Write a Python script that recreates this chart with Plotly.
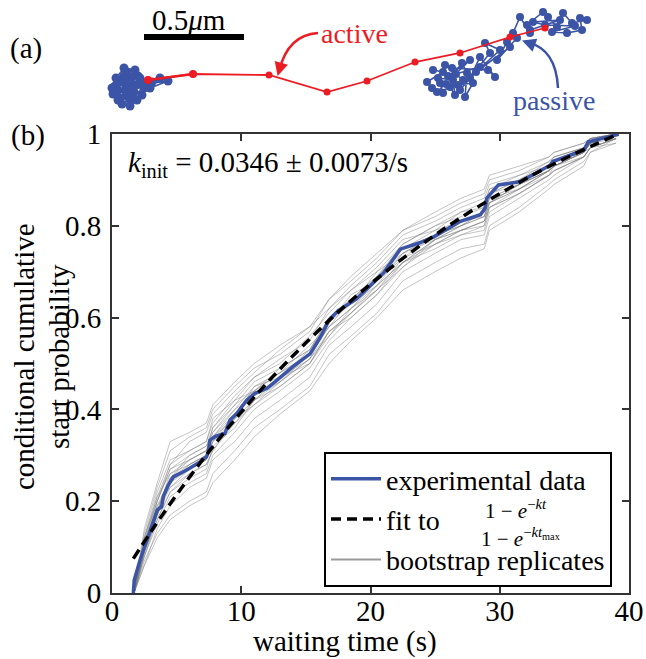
import plotly.graph_objects as go

W, H = 646, 659
FONT = "Liberation Serif"
BLUE = "#3b54a6"
RED = "#ec1c24"

# ---------------- panel (b) data ----------------
exp_t = [1.65, 1.72, 2.17, 2.81, 3.2, 3.51, 3.84, 3.97, 4.36, 4.75, 5.78, 6.68, 7.32, 7.45, 7.58,
         7.97, 8.74, 9.13, 9.65, 10.42, 11.06, 12.0, 12.7, 14.0, 15.32, 16.1, 16.8, 17.5, 18.9,
         21.0, 22.3, 23.8, 24.9, 25.4, 26.9, 28.5, 28.86, 28.99, 29.9, 31.57, 33.9, 34.1, 35.95,
         36.5, 36.85, 37.5, 39.04, 39.2]
exp_p = [0.0, 0.028, 0.072, 0.123, 0.152, 0.181, 0.188, 0.21, 0.235, 0.253, 0.268, 0.283, 0.297, 0.308, 0.333,
         0.341, 0.348, 0.377, 0.391, 0.42, 0.435, 0.446, 0.462, 0.493, 0.521, 0.556, 0.595, 0.615, 0.64,
         0.697, 0.749, 0.763, 0.776, 0.784, 0.809, 0.824, 0.838, 0.86, 0.889, 0.896, 0.932, 0.94, 0.958,
         0.965, 0.983, 0.987, 0.998, 1.0]

fit_t = [1.65, 3, 5, 7.5, 10, 12.5, 15, 17.5, 20, 22.5, 25, 27.5, 30, 32.5, 35, 37.5, 39.2]
fit_p = [0.075, 0.133, 0.214, 0.308, 0.394, 0.473, 0.545, 0.612, 0.673, 0.729, 0.780, 0.827, 0.870,
         0.910, 0.946, 0.979, 1.0]

boot_t = [1.7, 2.5, 3.5, 4.5, 6, 7.3, 7.8, 9.5, 11, 13, 15.3, 16.8, 18.5, 20.5, 22.5, 25, 27, 28.8,
          29.2, 31.5, 33.8, 34.2, 36.5, 37, 39]
boot_1 = [0, 0.13, 0.23, 0.31, 0.34, 0.36, 0.40, 0.45, 0.49, 0.52, 0.57, 0.64, 0.68, 0.73, 0.79, 0.82, 0.85, 0.87, 0.90, 0.92, 0.95, 0.96, 0.98, 0.99, 1.0]
boot_2 = [0, 0.07, 0.13, 0.17, 0.20, 0.22, 0.26, 0.31, 0.36, 0.40, 0.45, 0.52, 0.56, 0.61, 0.68, 0.72, 0.75, 0.76, 0.80, 0.84, 0.89, 0.90, 0.94, 0.96, 0.99]
boot_3 = [0, 0.11, 0.20, 0.27, 0.30, 0.32, 0.36, 0.41, 0.44, 0.49, 0.53, 0.60, 0.63, 0.70, 0.74, 0.78, 0.80, 0.82, 0.86, 0.89, 0.92, 0.93, 0.96, 0.98, 1.0]
boot_4 = [0, 0.08, 0.16, 0.22, 0.25, 0.27, 0.32, 0.36, 0.42, 0.45, 0.50, 0.57, 0.61, 0.66, 0.72, 0.77, 0.79, 0.81, 0.85, 0.88, 0.92, 0.93, 0.95, 0.97, 0.99]
boot_5 = [0, 0.12, 0.22, 0.29, 0.31, 0.33, 0.37, 0.43, 0.47, 0.50, 0.56, 0.61, 0.66, 0.71, 0.77, 0.79, 0.83, 0.84, 0.88, 0.91, 0.93, 0.95, 0.97, 0.98, 1.0]
boot_6 = [0, 0.09, 0.17, 0.24, 0.27, 0.29, 0.33, 0.39, 0.43, 0.47, 0.51, 0.59, 0.63, 0.67, 0.74, 0.77, 0.80, 0.83, 0.86, 0.89, 0.93, 0.94, 0.96, 0.98, 0.99]
boot_7 = [0, 0.06, 0.14, 0.19, 0.23, 0.25, 0.29, 0.33, 0.38, 0.42, 0.47, 0.54, 0.58, 0.63, 0.70, 0.74, 0.77, 0.78, 0.82, 0.86, 0.90, 0.91, 0.95, 0.97, 0.98]
boot_8 = [0, 0.10, 0.19, 0.25, 0.29, 0.31, 0.34, 0.38, 0.45, 0.48, 0.54, 0.58, 0.64, 0.69, 0.76, 0.80, 0.82, 0.84, 0.87, 0.90, 0.93, 0.94, 0.97, 0.99, 1.0]
boot_9 = [0, 0.12, 0.21, 0.28, 0.33, 0.35, 0.39, 0.44, 0.48, 0.53, 0.58, 0.62, 0.67, 0.72, 0.78, 0.81, 0.84, 0.86, 0.89, 0.91, 0.94, 0.95, 0.97, 0.98, 1.0]
boot_10 = [0, 0.08, 0.15, 0.21, 0.24, 0.26, 0.30, 0.35, 0.40, 0.44, 0.49, 0.55, 0.60, 0.65, 0.71, 0.76, 0.78, 0.79, 0.83, 0.87, 0.91, 0.92, 0.95, 0.97, 0.99]
boot_11 = [0, 0.10, 0.18, 0.26, 0.28, 0.30, 0.35, 0.40, 0.43, 0.46, 0.52, 0.58, 0.62, 0.68, 0.73, 0.78, 0.81, 0.82, 0.86, 0.88, 0.92, 0.93, 0.96, 0.98, 1.0]
boot_12 = [0, 0.09, 0.19, 0.23, 0.26, 0.28, 0.31, 0.37, 0.41, 0.45, 0.50, 0.56, 0.62, 0.66, 0.73, 0.76, 0.79, 0.80, 0.84, 0.87, 0.91, 0.92, 0.95, 0.97, 0.99]
boot_13 = [0, 0.14, 0.24, 0.33, 0.35, 0.37, 0.41, 0.46, 0.50, 0.54, 0.58, 0.64, 0.69, 0.74, 0.79, 0.83, 0.86, 0.88, 0.91, 0.93, 0.95, 0.96, 0.98, 0.99, 1.0]
boot_14 = [0, 0.06, 0.12, 0.16, 0.19, 0.21, 0.24, 0.29, 0.34, 0.39, 0.44, 0.50, 0.55, 0.60, 0.66, 0.70, 0.73, 0.75, 0.79, 0.83, 0.88, 0.89, 0.93, 0.96, 0.98]
boot_15 = [0, 0.11, 0.18, 0.25, 0.30, 0.32, 0.35, 0.41, 0.46, 0.49, 0.53, 0.59, 0.65, 0.68, 0.75, 0.78, 0.80, 0.83, 0.85, 0.89, 0.92, 0.93, 0.96, 0.99, 1.0]
boot_16 = [0, 0.09, 0.16, 0.22, 0.26, 0.28, 0.31, 0.38, 0.41, 0.46, 0.51, 0.57, 0.61, 0.66, 0.71, 0.77, 0.79, 0.81, 0.84, 0.88, 0.91, 0.93, 0.96, 0.98, 1.0]
boot_17 = [0, 0.10, 0.20, 0.27, 0.29, 0.31, 0.34, 0.40, 0.45, 0.47, 0.53, 0.60, 0.64, 0.69, 0.75, 0.79, 0.81, 0.83, 0.87, 0.90, 0.93, 0.94, 0.97, 0.98, 1.0]
boot_18 = [0, 0.08, 0.17, 0.23, 0.27, 0.29, 0.33, 0.37, 0.42, 0.46, 0.51, 0.56, 0.61, 0.67, 0.72, 0.76, 0.79, 0.81, 0.85, 0.88, 0.92, 0.93, 0.96, 0.97, 0.99]
boot_19 = [0, 0.11, 0.21, 0.26, 0.29, 0.31, 0.36, 0.42, 0.44, 0.48, 0.52, 0.60, 0.64, 0.68, 0.74, 0.78, 0.81, 0.83, 0.87, 0.89, 0.92, 0.93, 0.96, 0.98, 1.0]
boot_20 = [0, 0.09, 0.17, 0.25, 0.28, 0.30, 0.34, 0.39, 0.44, 0.48, 0.52, 0.58, 0.62, 0.67, 0.72, 0.77, 0.80, 0.82, 0.85, 0.89, 0.92, 0.94, 0.96, 0.98, 1.0]
boot_21 = [0, 0.10, 0.18, 0.24, 0.28, 0.30, 0.33, 0.38, 0.42, 0.47, 0.50, 0.57, 0.60, 0.65, 0.72, 0.75, 0.78, 0.80, 0.84, 0.87, 0.91, 0.92, 0.95, 0.97, 0.99]
boot_22 = [0, 0.12, 0.20, 0.28, 0.31, 0.33, 0.38, 0.42, 0.47, 0.51, 0.55, 0.62, 0.66, 0.70, 0.76, 0.80, 0.83, 0.85, 0.88, 0.90, 0.94, 0.95, 0.97, 0.99, 1.0]
boot_reps = [boot_1, boot_2, boot_3, boot_4, boot_5, boot_6, boot_7, boot_8, boot_9, boot_10, boot_11,
             boot_12, boot_13, boot_14, boot_15, boot_16, boot_17, boot_18, boot_19, boot_20, boot_21,
             boot_22]

x_ticks = [0, 10, 20, 30, 40]
y_ticks = [0, 0.2, 0.4, 0.6, 0.8, 1.0]
y_tick_labels = ["0", "0.2", "0.4", "0.6", "0.8", "1"]

# ---------------- panel (a) data (positions in nm) ----------------
left_x = [640, 610, 655, 680, 630, 590, 620, 670, 700, 650, 600, 575, 635, 690, 720, 665, 610, 565, 595,
          660, 640, 685, 630, 580, 620, 675, 710, 650, 590, 560, 625, 700, 760, 800, 750, 840, 730, 650]
left_y = [135, 165, 185, 150, 100, 125, 195, 115, 165, 75, 85, 145, 215, 195, 135, 95, 55, 105, 175,
          155, 110, 75, 150, 185, 235, 225, 100, 45, 75, 135, 125, 185, 165, 185, 135, 170, 155, 135]
right_x = [2165, 2215, 2135, 2160, 2215, 2200, 2250, 2275, 2265, 2190, 2230, 2310, 2335, 2325, 2365,
           2290, 2185, 2350, 2240, 2280, 2400, 2300, 2315, 2225, 2260, 2440, 2475, 2400, 2350, 2450,
           2425, 2500, 2380, 2550, 2535, 2485, 2585, 2565, 2600, 2650, 2635, 2715, 2740, 2785, 2815,
           2860, 2935, 2900, 2910, 2835, 2760, 2875, 2725, 2665, 2800, 2650]
right_y = [225, 215, 165, 135, 110, 160, 140, 100, 175, 185, 155, 260, 210, 90, 160,
           150, 115, 275, 195, 205, 240, 125, 175, 250, 235, 225, 190, 290, 185, 310,
           360, 325, 215, 340, 365, 275, 385, 410, 490, 410, 450, 515, 490, 440, 510,
           460, 475, 485, 425, 410, 415, 445, 450, 465, 475, 425]
active_x = [740, 965, 1345, 1635, 1835, 2075, 2300, 2550, 2725]
active_y = [175, 205, 200, 115, 170, 265, 310, 390, 435]
SCALE_BAR_NM = 500
SCALE_BAR_X0 = 720
SCALE_BAR_Y = 390


def px(x):
    """page pixel x -> paper fraction"""
    return x / W


def py(y):
    """page pixel y -> paper fraction"""
    return 1 - y / H


fig = go.Figure()

# bootstrap replicates
for i, rep in enumerate(boot_reps):
    fig.add_trace(go.Scatter(x=boot_t, y=rep, mode="lines",
                             line=dict(color="rgba(125,125,125,0.45)", width=1),
                             legendgroup="boot", showlegend=False, hoverinfo="skip"))
fig.add_trace(go.Scatter(x=[None], y=[None], mode="lines", name="bootstrap replicates",
                         line=dict(color="#999999", width=2.2), legendgroup="boot", legendrank=3))
fig.add_trace(go.Scatter(x=exp_t, y=exp_p, mode="lines", name="experimental data",
                         line=dict(color=BLUE, width=3.5), legendgroup="exp", legendrank=1))
fig.add_trace(go.Scatter(x=fit_t, y=fit_p, mode="lines", name="fit to",
                         line=dict(color="black", width=3.5, dash="10px,6px", shape="spline"),
                         legendgroup="fit", legendrank=2))

# panel (a) traces
fig.add_trace(go.Scatter(x=right_x, y=right_y, xaxis="x2", yaxis="y2", mode="lines+markers",
                         line=dict(color=BLUE, width=1.6), marker=dict(color=BLUE, size=8),
                         showlegend=False))
fig.add_trace(go.Scatter(x=active_x, y=active_y, xaxis="x2", yaxis="y2", mode="lines+markers",
                         line=dict(color=RED, width=1.8), marker=dict(color=RED, size=7),
                         showlegend=False))
fig.add_trace(go.Scatter(x=left_x, y=left_y, xaxis="x2", yaxis="y2", mode="lines+markers",
                         line=dict(color=BLUE, width=1.6), marker=dict(color=BLUE, size=9),
                         showlegend=False))
fig.add_trace(go.Scatter(x=active_x[:2], y=active_y[:2], xaxis="x2", yaxis="y2", mode="lines+markers",
                         line=dict(color=RED, width=2.5), marker=dict(color=RED, size=8),
                         showlegend=False))

axis_common = dict(showgrid=False, zeroline=False, ticks="inside", ticklen=7, tickwidth=1.5,
                   tickcolor="#333", linecolor="#333", linewidth=2, mirror="ticks", automargin=False,
                   tickfont=dict(family=FONT, size=29, color="black"))

fig.update_layout(
    template="none",
    width=W, height=H, margin=dict(l=0, r=0, t=0, b=0, pad=0),
    paper_bgcolor="white", plot_bgcolor="white",
    font=dict(family=FONT, color="black"),
    xaxis=dict(domain=[px(112), px(629)], range=[0, 40], tickvals=x_ticks, ticklabelstandoff=-9,
               **axis_common),
    yaxis=dict(domain=[py(593), py(134)], range=[0, 1], tickvals=y_ticks, ticktext=y_tick_labels,
               ticklabelstandoff=3, **axis_common),
    xaxis2=dict(domain=[0, 1], range=[0, W * 5], visible=False, anchor="y2", automargin=False),
    yaxis2=dict(domain=[py(115), 1], range=[0, 115 * 5], visible=False, anchor="x2",
                automargin=False),
    legend=dict(x=px(324), y=py(452), xanchor="left", yanchor="top",
                bgcolor="white", bordercolor="black", borderwidth=2,
                font=dict(family=FONT, size=28, color="black"),
                traceorder="grouped", tracegroupgap=1, itemwidth=50),
    showlegend=True,
)


def paper_text(text, x, y, size, **kw):
    return dict(text=text, x=px(x), y=py(y), xref="paper", yref="paper", showarrow=False,
                xanchor=kw.pop("xanchor", "center"), yanchor="middle",
                font=dict(size=size, **kw.pop("font", {})), **kw)


ann = []
ann.append(paper_text("waiting time (s)", 345, 641, 29))
ann.append(paper_text("conditional cumulative", 24, 357, 29, textangle=-90))
ann.append(paper_text("start probability", 59, 357, 29, textangle=-90))
ann.append(paper_text("<i>k</i><sub>init</sub> = 0.0346 ± 0.0073/s", 126, 164, 29, xanchor="left"))
ann.append(paper_text("(b)", 28, 135, 29))
ann.append(paper_text("(a)", 26, 48, 29))
# fraction in legend
ann.append(paper_text("1 − <i>e</i><sup>−<i>kt</i></sup>", 516, 509, 21))
ann.append(paper_text("1 − <i>e</i><sup>−<i>kt</i><sub>max</sub></sup>", 521, 537, 21))
# panel (a) text
ann.append(dict(text="0.5<i>μ</i>m", x=945, y=475, xref="x2", yref="y2", showarrow=False,
                xanchor="center", yanchor="middle", font=dict(size=29)))
ann.append(dict(text="active", x=1770, y=410, xref="x2", yref="y2", showarrow=False,
                xanchor="center", yanchor="middle", font=dict(size=28, color=RED)))
ann.append(dict(text="passive", x=2770, y=75, xref="x2", yref="y2", showarrow=False,
                xanchor="center", yanchor="middle", font=dict(size=28, color=BLUE)))
# arrow heads
ann.append(dict(text="", x=1388, y=195, ax=1405, ay=255, xref="x2", yref="y2", axref="x2",
                ayref="y2", showarrow=True, arrowhead=2, arrowsize=1.1, arrowwidth=2.5,
                arrowcolor=RED))
ann.append(dict(text="", x=2610, y=372, ax=2665, ay=352, xref="x2", yref="y2", axref="x2",
                ayref="y2", showarrow=True, arrowhead=2, arrowsize=1.1, arrowwidth=2.5,
                arrowcolor=BLUE))
fig.update_layout(annotations=ann)

shapes = []
shapes.append(dict(type="line", xref="x2", yref="y2", x0=SCALE_BAR_X0, x1=SCALE_BAR_X0 + SCALE_BAR_NM,
                   y0=SCALE_BAR_Y, y1=SCALE_BAR_Y, line=dict(color="black", width=6)))
shapes.append(dict(type="path", xref="x2", yref="y2", path="M 1590,410 Q 1440,400 1397,225",
                   line=dict(color=RED, width=2.5)))
shapes.append(dict(type="path", xref="x2", yref="y2", path="M 2790,135 Q 2780,330 2640,362",
                   line=dict(color=BLUE, width=2.5)))
shapes.append(dict(type="line", xref="paper", yref="paper", x0=px(466), x1=px(576),
                   y0=py(524), y1=py(524), line=dict(color="black", width=1.5)))
fig.update_layout(shapes=shapes)

fig.write_html("out.html", config={"displayModeBar": False},
               post_script="document.body.style.margin='0px';")
